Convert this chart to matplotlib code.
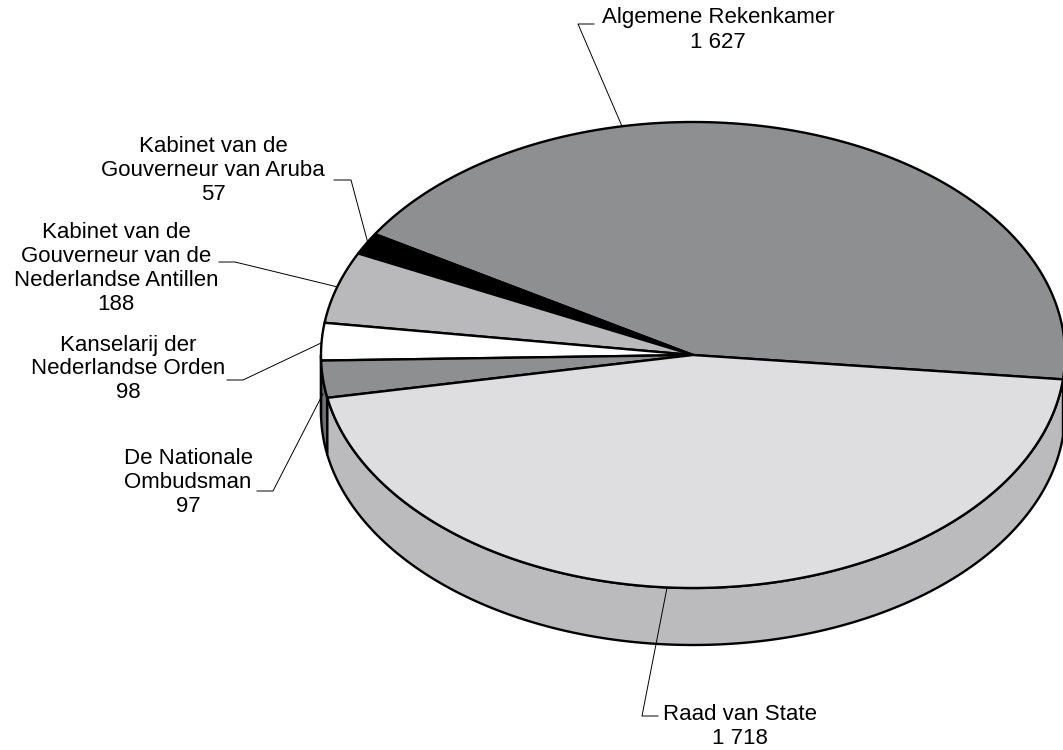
import numpy as np
import matplotlib.pyplot as plt
from matplotlib.patches import Polygon

# dane
names = ['Algemene Rekenkamer', 'Kabinet van de Gouverneur van Aruba',
         'Kabinet van de Gouverneur van de Nederlandse Antillen',
         'Kanselarij der Nederlandse Orden', 'De Nationale Ombudsman',
         'Raad van State']
values = [1627, 57, 188, 98, 97, 1718]
value_labels = ['1 627', '57', '188', '98', '97', '1 718']
label_lines = [
    ['Algemene Rekenkamer'],
    ['Kabinet van de', 'Gouverneur van Aruba'],
    ['Kabinet van de', 'Gouverneur van de', 'Nederlandse Antillen'],
    ['Kanselarij der', 'Nederlandse Orden'],
    ['De Nationale', 'Ombudsman'],
    ['Raad van State'],
]

top_colors = ['#8e8f91', '#000000', '#b9b9bb', '#ffffff', '#8e8f91', '#dedee0']
side_colors = ['#6e6f71', '#000000', '#8f8f91', '#c8c8c8', '#6e6f71', '#bbbbbd']

# geometria pseudo-3D (piksele)
cx, cy, a, b, depth = 693, 355, 372, 233, 57
start = -6.0

# uklad etykiet: (srodek x, y pierwszej linii), kat kotwicy, lokiet, koniec poziomy, na boku?
text_pos = [(718, 18), (213, 147), (116, 232), (128, 345), (188, 459), (740, 714)]
leaders = [
    (101, (578, 24), (594, 24), False),
    (151, (351, 180), (334, 180), False),
    (163, (235, 262), (219, 262), False),
    (177, (243, 380), (227, 380), False),
    (186, (273, 491), (257, 491), True),
    (266, (642, 716), (658, 716), False),
]


def ell(t, dy=0.0):
    r = np.radians(t)
    return cx + a * np.cos(r), cy - b * np.sin(r) + dy


fig = plt.figure(figsize=(10.63, 7.5), dpi=100)
ax = fig.add_axes([0, 0, 1, 1])
ax.set_xlim(0, 1063)
ax.set_ylim(750, 0)
ax.axis('off')

angles = np.cumsum([0] + [v / sum(values) * 360 for v in values]) + start

# sciany boczne (tylko przednia polowa)
for i in range(len(values)):
    t1, t2 = angles[i] % 360, angles[i + 1] % 360
    if t2 < t1:
        t2 += 360
    lo, hi = max(t1, 180), min(t2, 360)
    if hi <= lo:
        continue
    ts = np.linspace(lo, hi, 200)
    x, y = ell(ts)
    xb, yb = ell(ts[::-1], depth)
    pts = np.column_stack([np.concatenate([x, xb]), np.concatenate([y, yb])])
    ax.add_patch(Polygon(pts, closed=True, fc=side_colors[i], ec='black',
                         lw=1.7, joinstyle='round', zorder=1))

# gorna powierzchnia
for i in range(len(values)):
    ts = np.linspace(angles[i], angles[i + 1], 300)
    x, y = ell(ts)
    pts = np.column_stack([np.concatenate([[cx], x]), np.concatenate([[cy], y])])
    ax.add_patch(Polygon(pts, closed=True, fc=top_colors[i], ec='black',
                         lw=1.7, joinstyle='round', zorder=2))

# etykiety i linie odniesienia
for i in range(len(values)):
    t, elbow, end, on_side = leaders[i]
    x0, y0 = ell(t, depth * 0.25 if on_side else 0)
    ax.plot([x0, elbow[0], end[0]], [y0, elbow[1], end[1]], color='black',
            lw=0.7, zorder=3)
    tx, ty = text_pos[i]
    for k, line in enumerate(label_lines[i] + [value_labels[i]]):
        ax.text(tx, ty + k * 24, line, ha='center', va='center',
                fontsize=16, family='Liberation Sans', color='black')

plt.savefig('out.png', dpi=100)
